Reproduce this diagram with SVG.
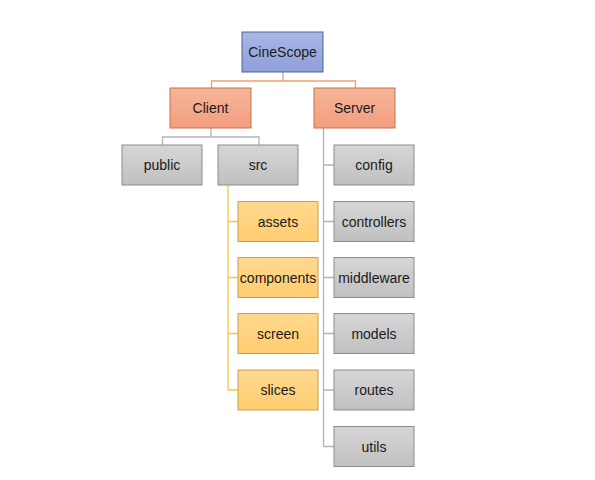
<svg xmlns="http://www.w3.org/2000/svg" width="595" height="480" viewBox="0 0 595 480">
<defs>
<linearGradient id="gBlue" x1="0" y1="0" x2="0" y2="1"><stop offset="0" stop-color="#A9B7E4"/><stop offset="1" stop-color="#8E9FD9"/></linearGradient>
<linearGradient id="gOrange" x1="0" y1="0" x2="0" y2="1"><stop offset="0" stop-color="#F7B59A"/><stop offset="1" stop-color="#F29E7E"/></linearGradient>
<linearGradient id="gGray" x1="0" y1="0" x2="0" y2="1"><stop offset="0" stop-color="#D6D6D6"/><stop offset="1" stop-color="#C0C0C0"/></linearGradient>
<linearGradient id="gYellow" x1="0" y1="0" x2="0" y2="1"><stop offset="0" stop-color="#FFD98E"/><stop offset="1" stop-color="#FFCC70"/></linearGradient>
</defs>
<style>
text{font-family:"Liberation Sans",Arial,sans-serif;font-size:14px;fill:#1a1a1a;text-anchor:middle;dominant-baseline:central}
.blue{fill:url(#gBlue);stroke:#4E63A0;stroke-width:1}
.orange{fill:url(#gOrange);stroke:#C7724F;stroke-width:1}
.gray{fill:url(#gGray);stroke:#8C8C8C;stroke-width:1}
.yellow{fill:url(#gYellow);stroke:#C9A04E;stroke-width:1}
.co{stroke:#F0A06E;stroke-width:1.3;fill:none}
.cg{stroke:#B4B4B4;stroke-width:1.3;fill:none}
.cy{stroke:#F5C842;stroke-width:1.3;fill:none}
</style>
<rect width="595" height="480" fill="#ffffff"/>
<g id="connectors">
<path class="co" d="M283 72V81M211.5 88V81H355.5V88"/>
<path class="cg" d="M211 128V137M162.5 145V137H259V145"/>
<path class="cy" d="M228 185V390M228 221.5H238M228 277.5H238M228 333.5H238M228 390H238"/>
<path class="cg" d="M323.5 128V446.5M323.5 165H334M323.5 221.5H334M323.5 277.5H334M323.5 333.5H334M323.5 390H334M323.5 446.5H334"/>
</g>
<g id="cinescope"><rect class="blue" x="242" y="32" width="81" height="40"/><text x="282.5" y="52">CineScope</text></g>
<g id="client"><rect class="orange" x="170" y="88" width="81" height="40"/><text x="210.5" y="108">Client</text></g>
<g id="server"><rect class="orange" x="314" y="88" width="81" height="40"/><text x="354.5" y="108">Server</text></g>
<g id="public"><rect class="gray" x="122" y="145" width="80" height="40"/><text x="162" y="165">public</text></g>
<g id="src"><rect class="gray" x="218" y="145" width="80" height="40"/><text x="258" y="165">src</text></g>
<g id="assets"><rect class="yellow" x="238" y="201.5" width="80" height="40"/><text x="278" y="221.5">assets</text></g>
<g id="components"><rect class="yellow" x="238" y="257.5" width="80" height="40"/><text x="278" y="277.5">components</text></g>
<g id="screen"><rect class="yellow" x="238" y="313.5" width="80" height="40"/><text x="278" y="333.5">screen</text></g>
<g id="slices"><rect class="yellow" x="238" y="370" width="80" height="40"/><text x="278" y="390">slices</text></g>
<g id="config"><rect class="gray" x="334" y="145" width="80" height="40"/><text x="374" y="165">config</text></g>
<g id="controllers"><rect class="gray" x="334" y="201.5" width="80" height="40"/><text x="374" y="221.5">controllers</text></g>
<g id="middleware"><rect class="gray" x="334" y="257.5" width="80" height="40"/><text x="374" y="277.5">middleware</text></g>
<g id="models"><rect class="gray" x="334" y="313.5" width="80" height="40"/><text x="374" y="333.5">models</text></g>
<g id="routes"><rect class="gray" x="334" y="370" width="80" height="40"/><text x="374" y="390">routes</text></g>
<g id="utils"><rect class="gray" x="334" y="426.5" width="80" height="40"/><text x="374" y="446.5">utils</text></g>
</svg>
